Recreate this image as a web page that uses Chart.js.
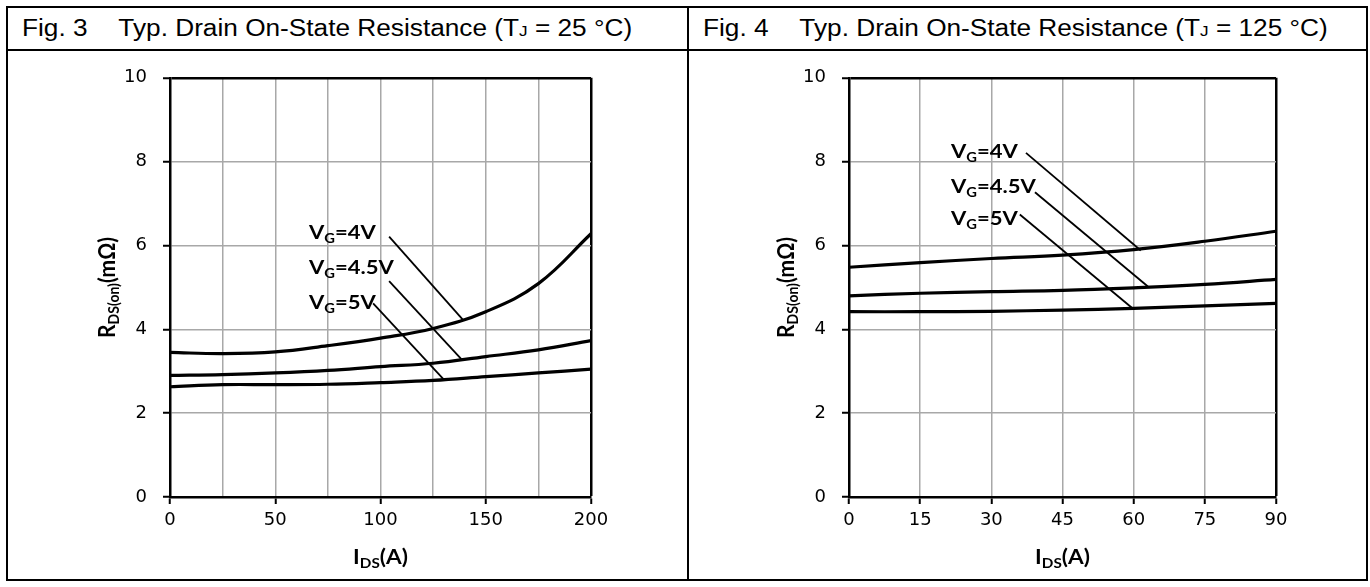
<!DOCTYPE html>
<html>
<head>
<meta charset="utf-8">
<script src="https://cdn.jsdelivr.net/npm/chart.js@4.4.1/dist/chart.umd.min.js"></script>
<style>
  body{margin:0;background:#fff;width:1370px;height:587px;position:relative;overflow:hidden}
  .ln{position:absolute;background:#000}
  .ttl{position:absolute;top:17px;font:23px/23px "Liberation Sans",Arial,sans-serif;color:#000;white-space:nowrap;transform:scaleX(1.14);transform-origin:0 0}
  .gap{display:inline-block;width:27px}
  .j{font-size:15px}
  canvas{position:absolute}
</style>
</head>
<body>
<!-- table frame -->
<div class="ln" style="left:6px;top:6px;width:1362px;height:2px"></div>
<div class="ln" style="left:6px;top:579px;width:1362px;height:2px"></div>
<div class="ln" style="left:6px;top:6px;width:2px;height:575px"></div>
<div class="ln" style="left:1366px;top:6px;width:2px;height:575px"></div>
<div class="ln" style="left:6px;top:49px;width:1362px;height:2px"></div>
<div class="ln" style="left:687px;top:6px;width:2px;height:575px"></div>

<div class="ttl" style="left:22px">Fig. 3<span class="gap"></span>Typ. Drain On-State Resistance (T<span class="j">J</span> = 25 °C)</div>
<div class="ttl" style="left:703px">Fig. 4<span class="gap"></span>Typ. Drain On-State Resistance (T<span class="j">J</span> = 125 °C)</div>

<canvas id="fig3" width="679" height="528" style="left:8px;top:51px"></canvas>
<canvas id="fig4" width="677" height="528" style="left:689px;top:51px"></canvas>

<script>
// ---- Fig. 3 (TJ = 25 °C) ----
const fig3X    = [0, 25, 50, 75, 100, 125, 150, 175, 200];
const fig3Vg4  = [3.45, 3.42, 3.46, 3.61, 3.79, 4.02, 4.42, 5.09, 6.28];
const fig3Vg45 = [2.90, 2.92, 2.96, 3.02, 3.11, 3.19, 3.35, 3.51, 3.73];
const fig3Vg5  = [2.63, 2.68, 2.68, 2.69, 2.73, 2.78, 2.87, 2.96, 3.05];
const fig3LabelX = 66;
const fig3LabelY = [6.32, 5.49, 4.66];
const fig3LeadFrom = [[104.1, 6.21], [104.1, 5.15], [96.5, 4.62]];
const fig3LeadTo   = [[139.3, 4.22], [138.4, 3.29], [129.9, 2.81]];

// ---- Fig. 4 (TJ = 125 °C) ----
const fig4X    = [0, 15, 30, 45, 60, 75, 90];
const fig4Vg4  = [5.48, 5.59, 5.69, 5.77, 5.90, 6.10, 6.34];
const fig4Vg45 = [4.80, 4.86, 4.90, 4.93, 4.99, 5.07, 5.19];
const fig4Vg5  = [4.42, 4.42, 4.43, 4.46, 4.50, 4.56, 4.62];
const fig4LabelX = 21.5;
const fig4LabelY = [8.26, 7.41, 6.66];
const fig4LeadFrom = [[37.3, 8.21], [39.2, 7.27], [36.0, 6.74]];
const fig4LeadTo   = [[61.5, 5.88], [63.0, 5.02], [60.0, 4.48]];

const gateVolts = ["4V", "4.5V", "5V"];
const yTicks = [0, 2, 4, 6, 8, 10];

const pts = (xs, ys) => xs.map((x, i) => ({ x, y: ys[i] }));

// texto con subíndice, estirado en x como el original
function drawRich(ctx, parts, big, small, sx, align){
  ctx.save();
  ctx.scale(sx, 1);
  let w = 0;
  parts.forEach(([t, sub]) => { ctx.font = "bold " + (sub ? small : big) + "px Lato"; w += ctx.measureText(t).width; });
  let cx = align === "center" ? -w / 2 : 0;
  parts.forEach(([t, sub]) => {
    ctx.font = "bold " + (sub ? small : big) + "px Lato";
    ctx.fillText(t, cx, sub ? 4 : 0);
    cx += ctx.measureText(t).width;
  });
  ctx.restore();
}

const textPlugin = {
  id: "texts",
  afterDraw(chart, args, o){
    const { ctx, chartArea: a } = chart;
    const sx = chart.scales.x, sy = chart.scales.y;
    ctx.save();
    ctx.fillStyle = "#000";
    ctx.textBaseline = "alphabetic";
    ctx.textAlign = "left";
    o.labelY.forEach((v, i) => {
      ctx.save();
      ctx.translate(sx.getPixelForValue(o.labelX), sy.getPixelForValue(v) + 7);
      drawRich(ctx, [["V", 0], ["G", 1], ["=" + gateVolts[i], 0]], 19.5, 13, 1.13, "left");
      ctx.restore();
    });
    // eje y
    ctx.save();
    ctx.translate(a.left - 63, (a.top + a.bottom) / 2);
    ctx.scale(1.13, 1);
    ctx.rotate(-Math.PI / 2);
    ctx.translate(0, 7);
    drawRich(ctx, [["R", 0], ["DS(on)", 1], ["(mΩ)", 0]], 21, 14, 1, "center");
    ctx.restore();
    // eje x
    ctx.save();
    ctx.translate((a.left + a.right) / 2, a.bottom + 67);
    drawRich(ctx, [["I", 0], ["DS", 1], ["(A)", 0]], 20, 13.5, 1.13, "center");
    ctx.restore();
    ctx.restore();
  }
};

function makeChart(id, xs, s4, s45, s5, xMax, xStep, xLabelStep, yWidth, padRight, labelX, labelY, leadFrom, leadTo){
  const curve = d => ({ data: d, showLine: true, borderColor: "#000", borderWidth: 3.2, pointRadius: 0, tension: 0.4 });
  const lead = (f, t) => ({ data: [{ x: f[0], y: f[1] }, { x: t[0], y: t[1] }], showLine: true, borderColor: "#000", borderWidth: 1.8, pointRadius: 0 });
  const tickFont = { family: "DejaVu Sans", size: 18 };
  return new Chart(document.getElementById(id), {
    type: "scatter",
    data: { datasets: [
      curve(pts(xs, s4)), curve(pts(xs, s45)), curve(pts(xs, s5)),
      ...leadFrom.map((f, i) => lead(f, leadTo[i]))
    ]},
    options: {
      responsive: false, animation: false,
      layout: { padding: { left: 0, top: 26, right: padRight, bottom: 0 } },
      plugins: { legend: { display: false }, tooltip: { enabled: false }, texts: { labelX, labelY } },
      scales: {
        x: {
          type: "linear", min: 0, max: xMax,
          afterFit: s => { s.height = 82; },
          ticks: { stepSize: xStep, autoSkip: false, maxRotation: 0, padding: 6, font: tickFont, color: "#000",
                   callback: v => (v % xLabelStep === 0 ? v : "") },
          grid: { color: c => c.tick && c.tick.value === xMax ? "#000" : "#a8a8a8",
                  lineWidth: c => c.tick && c.tick.value === xMax ? 2.5 : 1.5,
                  tickLength: 7, tickWidth: 2,
                  tickColor: c => c.tick && c.tick.value % xLabelStep === 0 ? "#000" : "rgba(0,0,0,0)" },
          border: { color: "#000", width: 2.5 }
        },
        y: {
          min: 0, max: 10,
          afterFit: s => { s.width = yWidth; },
          afterBuildTicks: s => { s.ticks = yTicks.map(v => ({ value: v })); },
          ticks: { padding: 16, font: tickFont, color: "#000" },
          grid: { color: c => c.tick && c.tick.value === 10 ? "#000" : "#a8a8a8",
                  lineWidth: c => c.tick && c.tick.value === 10 ? 2.5 : 1.5,
                  tickLength: 7, tickWidth: 2, tickColor: "#000" },
          border: { color: "#000", width: 2.5 }
        }
      }
    },
    plugins: [textPlugin]
  });
}

makeChart("fig3", fig3X, fig3Vg4, fig3Vg45, fig3Vg5, 200, 25, 50, 162, 96, fig3LabelX, fig3LabelY, fig3LeadFrom, fig3LeadTo);
makeChart("fig4", fig4X, fig4Vg4, fig4Vg45, fig4Vg5, 90, 15, 15, 160, 90, fig4LabelX, fig4LabelY, fig4LeadFrom, fig4LeadTo);
</script>
</body>
</html>
